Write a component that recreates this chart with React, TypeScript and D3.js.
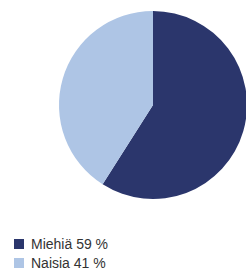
import { useEffect, useRef } from 'react'
import * as d3 from 'd3'

const labels = ['Miehiä', 'Naisia']
const values = [59, 41]
const colors = ['#2b366c', '#aec5e5']

export default function App() {
    const svgRef = useRef<SVGSVGElement>(null)
    const width = 246
    const height = 270

    useEffect(() => {
        if (!svgRef.current) return
        const svg = d3.select(svgRef.current)
        svg.selectAll('*').remove()

        const data = labels.map((l, i) => ({ label: l, value: values[i], color: colors[i] }))

        // Pie
        const g = svg.append('g').attr('transform', 'translate(153, 105)')
        const pie = d3.pie<typeof data[0]>().value(d => d.value).sort(null)
        const arc = d3.arc<d3.PieArcDatum<typeof data[0]>>().innerRadius(0).outerRadius(94)

        g.selectAll('path')
            .data(pie(data))
            .enter()
            .append('path')
            .attr('d', arc)
            .attr('fill', d => d.data.color)

        // Legend
        const legend = svg.append('g').attr('transform', 'translate(14, 239)')
        const items = legend.selectAll('g')
            .data(data)
            .enter()
            .append('g')
            .attr('transform', (d, i) => `translate(0, ${i * 19})`)

        items.append('rect')
            .attr('width', 10)
            .attr('height', 10)
            .attr('fill', d => d.color)

        items.append('text')
            .attr('x', 17)
            .attr('y', 10)
            .style('font-family', '"Liberation Sans", Arial, sans-serif')
            .style('font-size', '14px')
            .style('fill', '#333')
            .text(d => `${d.label} ${d.value} %`)
    }, [])

    return (
        <svg ref={svgRef} width={width} height={height}
            style={{ position: 'absolute', left: 0, top: 0 }}></svg>
    )
}
